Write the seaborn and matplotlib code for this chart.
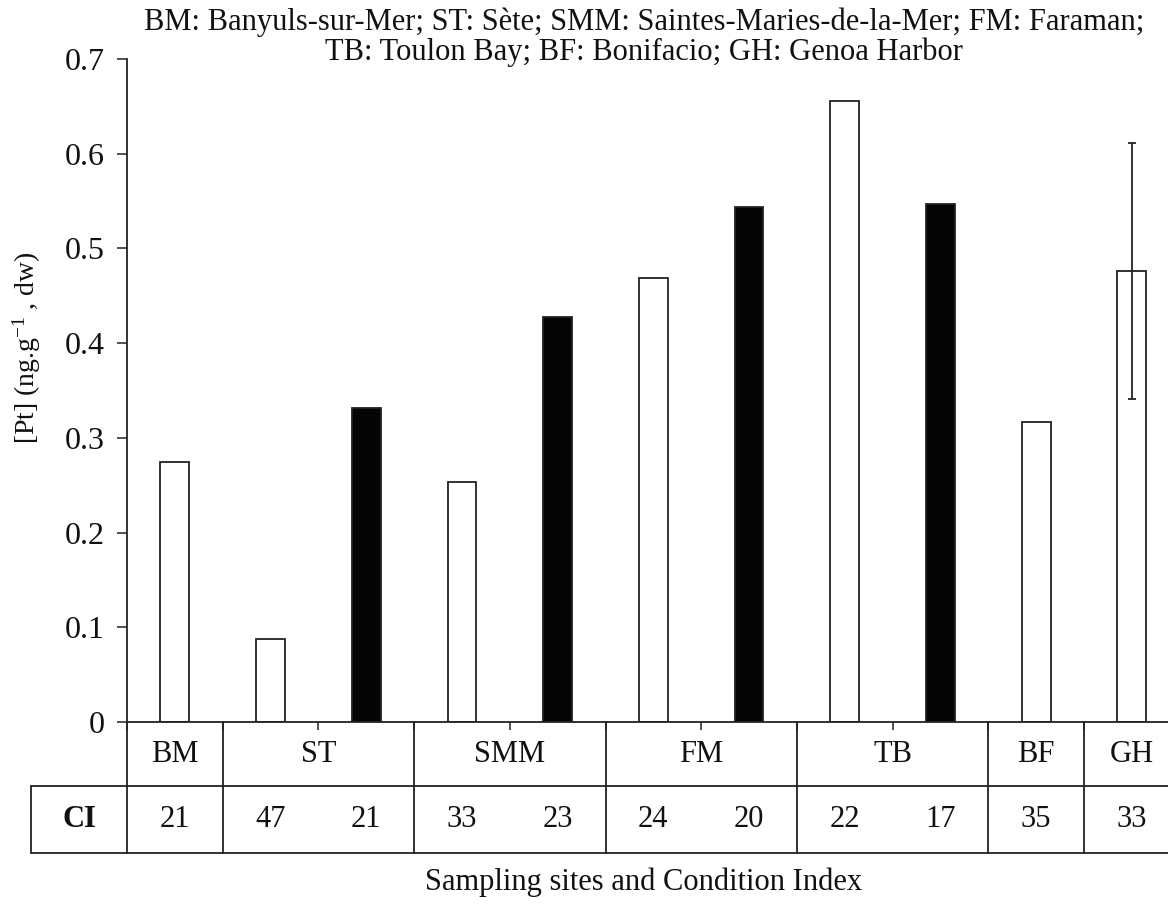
import numpy as np
import pandas as pd
import matplotlib
matplotlib.use("Agg")
import matplotlib.pyplot as plt
import seaborn as sns

# ---- data ----
slots = ["BM", "ST-1", "ST-2", "SMM-1", "SMM-2", "FM-1", "FM-2", "TB-1", "TB-2", "BF", "GH"]
pt_values = [0.274, 0.088, 0.331, 0.253, 0.428, 0.469, 0.544, 0.656, 0.547, 0.317, 0.476]
condition = ["open", "open", "filled", "open", "filled", "open", "filled", "open", "filled", "open", "open"]
ci_values = [21, 47, 21, 33, 23, 24, 20, 22, 17, 35, 33]
site_groups = ["BM", "ST", "SMM", "FM", "TB", "BF", "GH"]
group_sizes = [1, 2, 2, 2, 2, 1, 1]
gh_err = 0.135
title_text = ("BM: Banyuls-sur-Mer; ST: Sète; SMM: Saintes-Maries-de-la-Mer; FM: Faraman;\n"
              "TB: Toulon Bay; BF: Bonifacio; GH: Genoa Harbor")
ylabel_text = r"[Pt] (ng.g$^{-1}$ , dw)"
xlabel_text = "Sampling sites and Condition Index"
yticks = [0, 0.1, 0.2, 0.3, 0.4, 0.5, 0.6, 0.7]
ytick_labels = ["0", "0.1", "0.2", "0.3", "0.4", "0.5", "0.6", "0.7"]

df = pd.DataFrame({"slot": slots, "pt": pt_values, "cond": condition})

sns.set_theme(style="white")
plt.rcParams["font.family"] = ["Liberation Serif", "DejaVu Serif"]
plt.rcParams["mathtext.fontset"] = "custom"
plt.rcParams["mathtext.rm"] = "Liberation Serif"
plt.rcParams["mathtext.it"] = "Liberation Serif:italic"

W, H = 1168, 907
fig = plt.figure(figsize=(W / 100, H / 100), dpi=100)
ax_left, ax_bottom, ax_top = 127, 722, 59
cat_w = 95.7
ax_w = cat_w * len(slots)
ax = fig.add_axes([ax_left / W, 1 - ax_bottom / H, ax_w / W, (ax_bottom - ax_top) / H])

sns.barplot(data=df, x="slot", y="pt", hue="cond", order=slots,
            palette={"open": "white", "filled": "#050505"}, dodge=False,
            width=0.3, edgecolor="#222222", linewidth=1.3, errorbar=None,
            legend=False, ax=ax)

gh_idx = slots.index("GH")
ax.errorbar([gh_idx], [pt_values[gh_idx]], yerr=[gh_err], fmt="none",
            ecolor="#222222", elinewidth=1.3, capsize=3, capthick=1.3)

ax.set_xlim(-0.5, len(slots) - 0.5)
ax.set_ylim(0, 0.7)
ax.set_yticks(yticks)
ax.set_yticklabels(ytick_labels)
ax.set_xticks(np.arange(-0.5, len(slots), 1.0))
ax.set_xticklabels([])
ax.set_xlabel("")
ax.set_ylabel("")
for s in ["top", "right"]:
    ax.spines[s].set_visible(False)
for s in ["left", "bottom"]:
    ax.spines[s].set_color("#222222")
    ax.spines[s].set_linewidth(1.3)
ax.tick_params(axis="y", direction="out", length=7.2, width=1.1, color="#222222",
               labelsize=23, pad=9, left=True)
ax.tick_params(axis="x", direction="out", length=5.5, width=1.1, color="#222222", bottom=True)
for lab in ax.get_yticklabels():
    lab.set_color("#111111")

# ---- table below axis ----
tr = ax.get_xaxis_transform()
ax_h = ax_bottom - ax_top
r1 = -(786 - ax_bottom) / ax_h
r2 = -(853 - ax_bottom) / ax_h
lc = "#222222"
lw = 1.3
xmin_tab, xmax_tab = -1.5, len(slots) - 0.5
ax.plot([xmin_tab, xmax_tab], [r1, r1], transform=tr, color=lc, lw=lw, clip_on=False)
ax.plot([xmin_tab, xmax_tab], [r2, r2], transform=tr, color=lc, lw=lw, clip_on=False)
ax.plot([xmin_tab, xmin_tab], [r1, r2], transform=tr, color=lc, lw=lw, clip_on=False)
ax.plot([-0.5, -0.5], [0, r2], transform=tr, color=lc, lw=lw, clip_on=False)

start = 0
for name, n in zip(site_groups, group_sizes):
    end = start + n
    xb = end - 0.5
    ax.plot([xb, xb], [0, r2], transform=tr, color=lc, lw=lw, clip_on=False)
    ax.text((start + end - 1) / 2, (0 + r1) / 2, name, transform=tr, ha="center",
            va="center", fontsize=22, color="#111111")
    start = end

for i, v in enumerate(ci_values):
    ax.text(i, (r1 + r2) / 2, str(v), transform=tr, ha="center", va="center",
            fontsize=22, color="#111111")
ax.text(-1.0, (r1 + r2) / 2, "CI", transform=tr, ha="center", va="center",
        fontsize=22, fontweight="bold", color="#111111")

# ---- titles/labels ----
fig.text(644 / W, 1 - 37 / H, title_text, ha="center", va="center", fontsize=22,
         linespacing=1.02, color="#111111")
fig.text(27 / W, 1 - 348 / H, ylabel_text, rotation=90, ha="center", va="center",
         fontsize=20, color="#111111")
fig.text(644 / W, 1 - 882 / H, xlabel_text, ha="center", va="center", fontsize=22,
         color="#111111")

fig.savefig("out.png", dpi=100)
